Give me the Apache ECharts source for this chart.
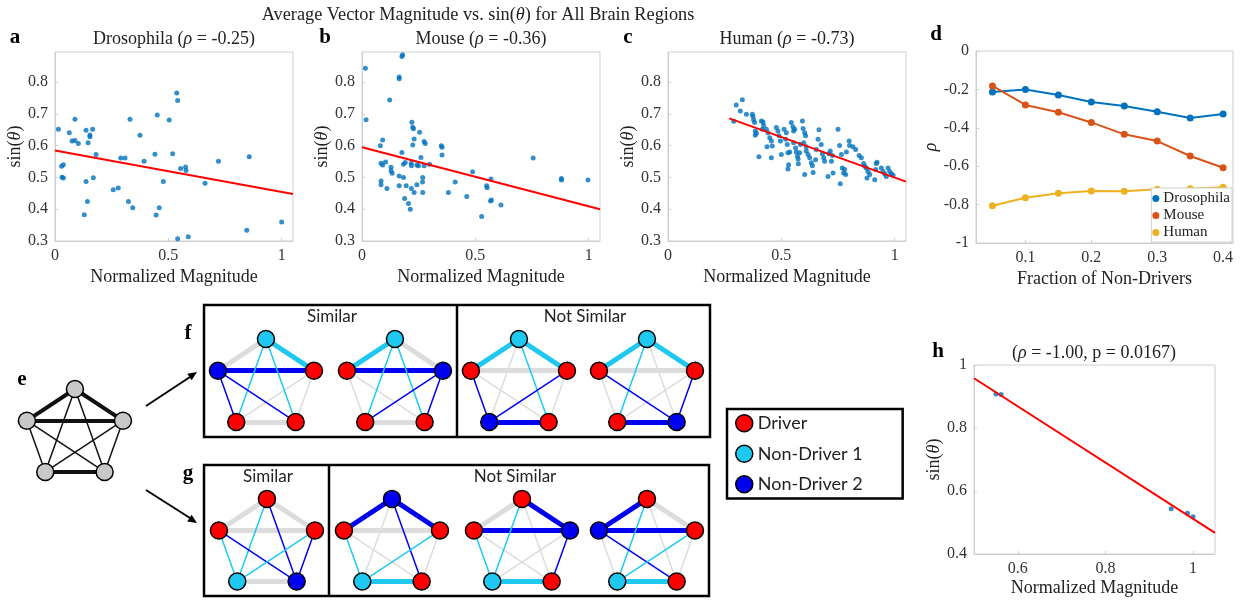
<!DOCTYPE html>
<html>
<head>
<meta charset="UTF-8">
<title></title>
<script src="https://cdn.jsdelivr.net/npm/echarts@6/dist/echarts.min.js"></script>
<style>body{margin:0;background:#fff}</style>
</head>
<body>
<div id="main" style="width:1250px;height:604px;"></div>
</body>
<script>
var SERIF = '"Liberation Serif", "Times New Roman", serif';
var SANS = 'Lato, "Noto Sans", sans-serif';
var AXC = '#cfcfcf';

// a - Drosophila
var droPts = [[0.015,0.652],[0.029,0.535],[0.037,0.540],[0.031,0.501],[0.037,0.498],[0.063,0.641],[0.075,0.615],[0.088,0.683],[0.088,0.616],[0.103,0.607],[0.137,0.649],[0.146,0.609],[0.154,0.634],[0.154,0.628],[0.166,0.652],[0.181,0.572],[0.137,0.487],[0.169,0.499],[0.143,0.424],[0.129,0.383],[0.257,0.461],[0.279,0.467],[0.290,0.561],[0.309,0.561],[0.331,0.683],[0.324,0.424],[0.343,0.405],[0.375,0.633],[0.393,0.551],[0.441,0.573],[0.451,0.697],[0.504,0.681],[0.519,0.575],[0.478,0.487],[0.460,0.405],[0.446,0.382],[0.537,0.766],[0.541,0.742],[0.554,0.528],[0.576,0.533],[0.578,0.522],[0.541,0.307],[0.588,0.313],[0.662,0.482],[0.721,0.551],[0.857,0.565],[0.846,0.334],[1.0,0.360]];
var droFit = [[0, 0.585], [1.05, 0.448]];

// b - Mouse
var mousePts = [[0.015,0.844],[0.018,0.682],[0.179,0.886],[0.176,0.881],[0.164,0.816],[0.164,0.811],[0.122,0.744],[0.091,0.618],[0.081,0.600],[0.084,0.545],[0.091,0.539],[0.104,0.549],[0.084,0.489],[0.084,0.477],[0.110,0.465],[0.128,0.532],[0.128,0.521],[0.133,0.513],[0.164,0.505],[0.164,0.474],[0.176,0.579],[0.183,0.542],[0.191,0.547],[0.183,0.500],[0.195,0.474],[0.188,0.434],[0.205,0.418],[0.213,0.400],[0.220,0.674],[0.224,0.658],[0.227,0.653],[0.230,0.621],[0.224,0.602],[0.217,0.545],[0.218,0.537],[0.218,0.465],[0.230,0.453],[0.242,0.477],[0.242,0.539],[0.249,0.537],[0.254,0.642],[0.260,0.563],[0.268,0.500],[0.267,0.486],[0.268,0.453],[0.274,0.613],[0.279,0.607],[0.274,0.537],[0.298,0.542],[0.353,0.595],[0.353,0.571],[0.350,0.600],[0.381,0.453],[0.411,0.486],[0.462,0.440],[0.488,0.518],[0.528,0.377],[0.550,0.474],[0.552,0.468],[0.569,0.495],[0.567,0.426],[0.571,0.429],[0.613,0.413],[0.755,0.561],[0.880,0.497],[0.880,0.492],[0.997,0.492]];
var mouseFit = [[0, 0.595], [1.05, 0.400]];

// c - Human
var humanPts = [[0.301,0.728],[0.328,0.745],[0.319,0.709],[0.290,0.677],[0.346,0.699],[0.372,0.699],[0.375,0.692],[0.378,0.681],[0.382,0.673],[0.385,0.646],[0.385,0.633],[0.390,0.639],[0.412,0.678],[0.419,0.675],[0.422,0.664],[0.416,0.652],[0.401,0.565],[0.434,0.652],[0.441,0.641],[0.449,0.625],[0.437,0.597],[0.456,0.615],[0.460,0.599],[0.456,0.562],[0.478,0.657],[0.485,0.646],[0.490,0.631],[0.496,0.615],[0.500,0.572],[0.512,0.652],[0.522,0.641],[0.519,0.620],[0.526,0.604],[0.529,0.578],[0.532,0.540],[0.529,0.527],[0.537,0.580],[0.544,0.673],[0.551,0.660],[0.554,0.646],[0.559,0.652],[0.554,0.609],[0.563,0.593],[0.566,0.580],[0.571,0.567],[0.574,0.558],[0.575,0.543],[0.581,0.578],[0.584,0.604],[0.593,0.678],[0.596,0.654],[0.603,0.641],[0.607,0.631],[0.599,0.609],[0.610,0.597],[0.610,0.583],[0.618,0.572],[0.625,0.562],[0.632,0.546],[0.603,0.509],[0.637,0.537],[0.640,0.516],[0.651,0.556],[0.654,0.588],[0.662,0.620],[0.666,0.650],[0.676,0.604],[0.681,0.575],[0.687,0.562],[0.691,0.551],[0.706,0.503],[0.710,0.575],[0.716,0.583],[0.721,0.551],[0.728,0.514],[0.725,0.569],[0.750,0.652],[0.757,0.601],[0.765,0.572],[0.760,0.480],[0.769,0.530],[0.775,0.514],[0.779,0.525],[0.784,0.509],[0.787,0.580],[0.799,0.615],[0.801,0.601],[0.816,0.597],[0.828,0.588],[0.843,0.569],[0.853,0.562],[0.863,0.544],[0.868,0.535],[0.875,0.530],[0.882,0.519],[0.890,0.509],[0.878,0.498],[0.912,0.493],[0.916,0.525],[0.919,0.544],[0.922,0.548],[0.941,0.530],[0.949,0.519],[0.956,0.511],[0.963,0.503],[0.971,0.530],[0.978,0.519],[0.985,0.512],[0.993,0.507]];
var humanFit = [[0.27, 0.686], [1.05, 0.487]];

// d - rho vs fraction of non-drivers
var fracs = [0.05, 0.1, 0.15, 0.2, 0.25, 0.3, 0.35, 0.4];
var rhoDro = [-0.214, -0.201, -0.229, -0.266, -0.286, -0.316, -0.349, -0.328];
var rhoMouse = [-0.182, -0.281, -0.319, -0.372, -0.434, -0.469, -0.547, -0.608];
var rhoHuman = [-0.806, -0.764, -0.741, -0.729, -0.731, -0.720, -0.717, -0.710];

// h - synthetic networks
var synthPts = [[0.550,0.908],[0.562,0.906],[0.950,0.544],[0.987,0.529],[1.0,0.518]];
var synthFit = [[0.5, 0.958], [1.05, 0.467]];

// e, f, g - toy networks
var roleNames = ['Driver', 'Non-Driver 1', 'Non-Driver 2'];
var roleColors = ['#ff0000', '#1ec8f0', '#0000f0'];
var pentagon = [[0,1],[-0.951,0.309],[0.951,0.309],[-0.588,-0.809],[0.588,-0.809]];
var edges = [[0,1],[0,2],[1,2],[3,4],[1,3],[2,4],[0,3],[0,4],[1,4],[2,3]];
var heavyEdges = 4; // the first four edges are the strong ones
var fRoles = [[1,2,0,0,0],[1,0,2,0,0],[1,0,0,2,0],[1,0,0,0,2]];
var gRoles = [[0,0,0,1,2],[2,0,0,1,0],[0,0,2,1,0],[0,2,0,1,0]];
var netRoles = [null].concat(fRoles, gRoles);
var netCenters = [[75,389],[266,339],[395,339],[519,339],[647,339],[267,499],[392,499],[522,499],[647,499]];

var plotGrids = [
	{left: 55, top: 52, width: 238, height: 189},
	{left: 362, top: 52, width: 238, height: 189},
	{left: 668, top: 52, width: 238, height: 189},
	{left: 976, top: 51, width: 257, height: 192},
	{left: 974, top: 365, width: 241, height: 189}
];

var GREY = '#dcdcdc';

function rich(size) {
	return {
		n: {fontFamily: SERIF, fontSize: size, color: '#222'},
		i: {fontFamily: SERIF, fontSize: size, fontStyle: 'italic', color: '#222'}
	};
}
var SIN = '{n|sin(}{i|θ}{n|)}';

function valAxis(extra) {
	return Object.assign({
		type: 'value',
		axisLine: {show: true, onZero: false, lineStyle: {color: AXC}},
		axisTick: {show: true, inside: true, length: 3, lineStyle: {color: AXC}},
		axisLabel: {color: '#333', fontFamily: SERIF, fontSize: 16, margin: 7},
		splitLine: {show: false},
		nameLocation: 'middle',
		nameTextStyle: {fontFamily: SERIF, fontSize: 18, color: '#222', rich: rich(18)}
	}, extra);
}
function ticks(vals) {
	return {
		axisLabel: {color: '#333', fontFamily: SERIF, fontSize: 16, margin: 7, customValues: vals},
		axisTick: {show: true, inside: true, length: 3, lineStyle: {color: AXC}, customValues: vals}
	};
}

var grids = plotGrids.map(function (g) {
	return Object.assign({show: true, borderColor: AXC, borderWidth: 1}, g);
});
var xAxes = [], yAxes = [];
for (var i = 0; i < 3; i++) {
	xAxes.push(valAxis(Object.assign({gridIndex: i, min: 0, max: 1.05, name: 'Normalized Magnitude', nameGap: 27}, ticks([0, 0.5, 1]))));
	yAxes.push(valAxis(Object.assign({gridIndex: i, min: 0.3, max: 0.895, name: SIN, nameGap: 22}, ticks([0.3, 0.4, 0.5, 0.6, 0.7, 0.8]))));
}
xAxes.push(valAxis(Object.assign({gridIndex: 3, min: 0.025, max: 0.415, name: 'Fraction of Non-Drivers', nameGap: 27}, ticks([0.1, 0.2, 0.3, 0.4]))));
yAxes.push(valAxis({gridIndex: 3, min: -1, max: 0, interval: 0.2, name: '{i|ρ}', nameGap: 30}));
xAxes.push(valAxis(Object.assign({gridIndex: 4, min: 0.5, max: 1.05, name: 'Normalized Magnitude', nameGap: 25}, ticks([0.6, 0.8, 1]))));
yAxes.push(valAxis({gridIndex: 4, min: 0.4, max: 1, interval: 0.2, name: SIN, nameGap: 25}));

// hidden grids for the little networks
netCenters.forEach(function (c, k) {
	grids.push({left: c[0] - 65.7, top: c[1] - 13.8, width: 131.3, height: 119.3});
	xAxes.push({type: 'value', gridIndex: 5 + k, min: -1.3, max: 1.3, show: false});
	yAxes.push({type: 'value', gridIndex: 5 + k, min: -1.3, max: 1.3, show: false});
});

var series = [];
function scatterFit(idx, pts, fit) {
	series.push({type: 'scatter', xAxisIndex: idx, yAxisIndex: idx, data: pts, symbolSize: 5,
		itemStyle: {color: '#0072BD'}, silent: true});
	series.push({type: 'line', xAxisIndex: idx, yAxisIndex: idx, data: fit, showSymbol: false,
		lineStyle: {color: '#ff0000', width: 2}, silent: true});
}
scatterFit(0, droPts, droFit);
scatterFit(1, mousePts, mouseFit);
scatterFit(2, humanPts, humanFit);
scatterFit(4, synthPts, synthFit);

[['Drosophila', rhoDro, '#0072BD'], ['Mouse', rhoMouse, '#D95319'], ['Human', rhoHuman, '#EDB120']].forEach(function (s) {
	series.push({
		name: s[0], type: 'line', xAxisIndex: 3, yAxisIndex: 3,
		data: fracs.map(function (f, j) { return [f, s[1][j]]; }),
		symbol: 'circle', symbolSize: 7, color: s[2],
		lineStyle: {width: 2}, silent: true
	});
});

netRoles.forEach(function (roles, k) {
	var nodes = pentagon.map(function (p, j) {
		var n = {value: p.slice()};
		if (roles) n.category = roles[j];
		else n.itemStyle = {color: '#c8c8c8'};
		return n;
	});
	var links = edges.map(function (e, j) {
		var color, w;
		if (!roles) {
			color = '#111';
			w = j < heavyEdges ? 4 : 1.5;
		} else {
			var a = roles[e[0]], b = roles[e[1]];
			color = (a === 0) !== (b === 0) ? roleColors[a || b] : GREY;
			w = j < heavyEdges ? 5 : 1.5;
		}
		return {source: e[0], target: e[1], lineStyle: {color: color, width: w, opacity: 1}};
	});
	// grey links underneath the coloured ones
	links.sort(function (p, q) {
		return (p.lineStyle.color === GREY ? 0 : 1) - (q.lineStyle.color === GREY ? 0 : 1);
	});
	series.push({
		name: 'net' + k, type: 'graph', coordinateSystem: 'cartesian2d', layout: 'none',
		xAxisIndex: 5 + k, yAxisIndex: 5 + k,
		symbol: 'circle', symbolSize: 17,
		categories: roleNames.map(function (n, r) { return {name: n, itemStyle: {color: roleColors[r]}}; }),
		data: nodes, links: links,
		itemStyle: {borderColor: '#000', borderWidth: 1.5},
		lineStyle: {opacity: 1, curveness: 0},
		label: {show: false}, silent: true
	});
});

function txt(x, y, text, extra) {
	return {type: 'text', x: x, y: y, z: 10, style: Object.assign({
		text: text, fill: '#222', textAlign: 'center', textVerticalAlign: 'middle',
		fontFamily: SERIF, fontSize: 18
	}, extra)};
}
function letter(x, y, t) {
	return txt(x, y, t, {fontWeight: 'bold', fontSize: 21, fill: '#000'});
}
var notes = [
	txt(478, 15, '{n|Average Vector Magnitude vs. sin(}{i|θ}{n|) for All Brain Regions}', {rich: rich(18.3)}),
	txt(174, 39, '{n|Drosophila (}{i|ρ}{n| = -0.25)}', {rich: rich(18)}),
	txt(481, 39, '{n|Mouse (}{i|ρ}{n| = -0.36)}', {rich: rich(18)}),
	txt(787, 39, '{n|Human (}{i|ρ}{n| = -0.73)}', {rich: rich(18)}),
	txt(1094, 353, '{n|(}{i|ρ}{n| = -1.00, p = 0.0167)}', {rich: rich(18)}),
	letter(15, 38, 'a'), letter(325, 38, 'b'), letter(628, 38, 'c'), letter(936, 35, 'd'),
	letter(22, 380, 'e'), letter(188, 334, 'f'), letter(188, 474, 'g'), letter(938, 352, 'h'),
	txt(332, 317, 'Similar', {fontFamily: SANS, fontSize: 17}),
	txt(585, 317, 'Not Similar', {fontFamily: SANS, fontSize: 17}),
	txt(268, 477, 'Similar', {fontFamily: SANS, fontSize: 17}),
	txt(515, 477, 'Not Similar', {fontFamily: SANS, fontSize: 17}),
	{type: 'rect', shape: {x: 204, y: 305, width: 506, height: 132}, style: {fill: 'none', stroke: '#000', lineWidth: 2.5}},
	{type: 'line', shape: {x1: 457, y1: 305, x2: 457, y2: 437}, style: {stroke: '#000', lineWidth: 2.5}},
	{type: 'rect', shape: {x: 204, y: 465, width: 505, height: 131}, style: {fill: 'none', stroke: '#000', lineWidth: 2.5}},
	{type: 'line', shape: {x1: 329, y1: 465, x2: 329, y2: 596}, style: {stroke: '#000', lineWidth: 2.5}},
	{type: 'line', shape: {x1: 146, y1: 406, x2: 190, y2: 377}, style: {stroke: '#000', lineWidth: 2}},
	{type: 'polygon', shape: {points: [[197, 372], [191.7, 380.3], [187.3, 373.7]]}, style: {fill: '#000'}},
	{type: 'line', shape: {x1: 146, y1: 490, x2: 190, y2: 518}, style: {stroke: '#000', lineWidth: 2}},
	{type: 'polygon', shape: {points: [[197, 523], [187.2, 521.5], [191.6, 514.7]]}, style: {fill: '#000'}}
];

var myChart = echarts.init(document.getElementById('main'));
myChart.setOption({
	animation: false,
	backgroundColor: '#fff',
	textStyle: {fontFamily: SERIF},
	grid: grids,
	xAxis: xAxes,
	yAxis: yAxes,
	legend: [{
		data: ['Drosophila', 'Mouse', 'Human'], orient: 'vertical', right: 18, bottom: 362,
		icon: 'circle', itemWidth: 7, itemHeight: 7, itemGap: 2, padding: [3, 2, 2, 1],
		borderColor: AXC, borderWidth: 1, backgroundColor: '#fff', selectedMode: false,
		textStyle: {fontFamily: SERIF, fontSize: 15, color: '#222', padding: [0, 0, 0, -1]}
	}, {
		data: roleNames, orient: 'vertical', left: 727, top: 409,
		icon: 'circle', itemWidth: 17, itemHeight: 17, itemGap: 12, padding: [5, 40, 5, 8],
		borderColor: '#000', borderWidth: 2.5, selectedMode: false,
		itemStyle: {borderColor: '#000', borderWidth: 1.5},
		textStyle: {fontFamily: SANS, fontSize: 18, color: '#222'}
	}],
	graphic: notes,
	series: series
});
</script>
</html>
